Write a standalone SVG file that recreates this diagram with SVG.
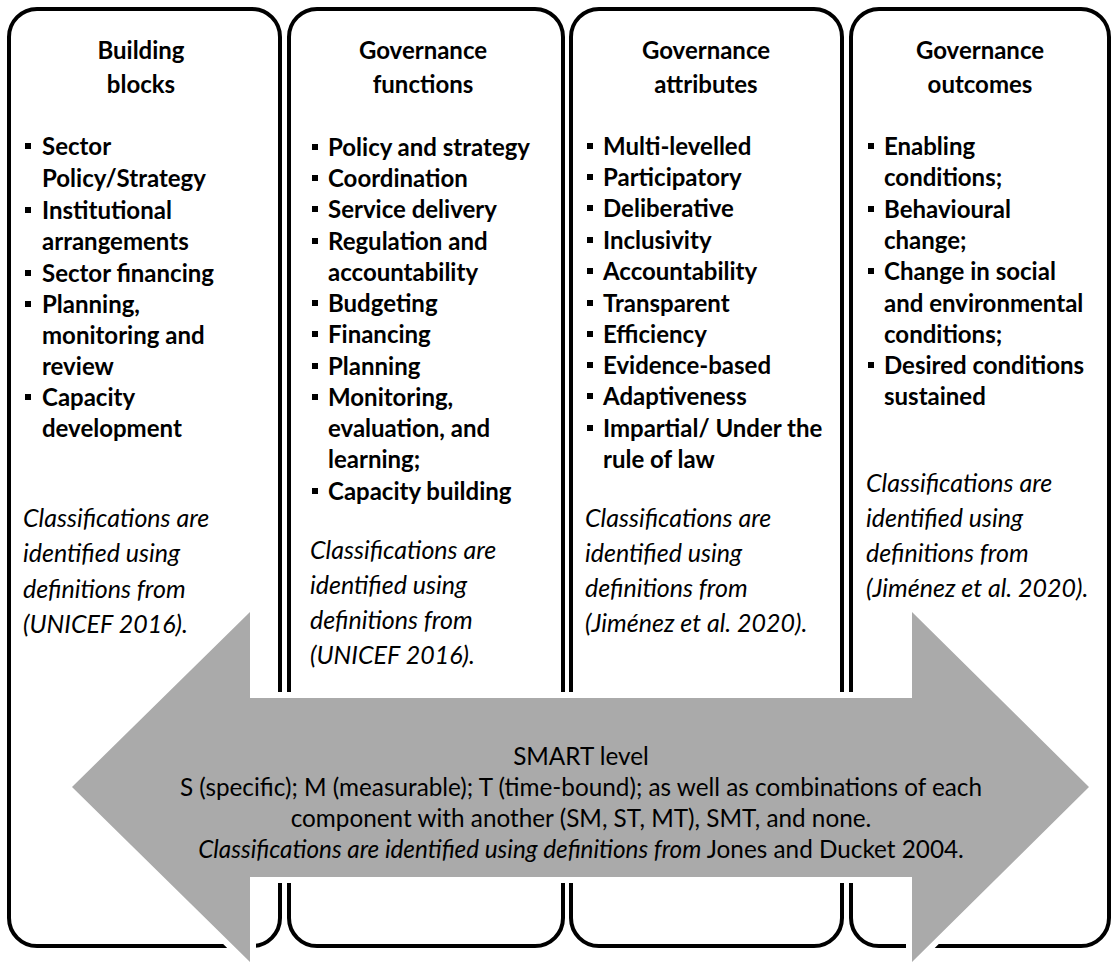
<svg xmlns="http://www.w3.org/2000/svg" width="1114" height="963" viewBox="0 0 1114 963">
<style>
.box{fill:#fff;stroke:#000;stroke-width:4}
.t{font-family:Lato,"Liberation Sans",sans-serif;font-size:24px;fill:#000}
.b{font-weight:bold}
.h{font-weight:bold;text-anchor:middle}
.i{font-style:italic;font-size:25px}
.c{text-anchor:middle;font-size:24.3px}
.c .i{font-size:24.3px}
.bl{fill:#000}
.halo{fill:#fff;stroke:#fff;stroke-width:12;stroke-linejoin:miter}
.arrow{fill:#aaaaaa}
</style>
<rect width="1114" height="963" fill="#fff"/>
<g id="col-building-blocks">
<rect class="box" x="9" y="9" width="271" height="937" rx="28"/>
<text class="t h" x="141" y="59">Building</text>
<text class="t h" x="141" y="93">blocks</text>
<rect class="bl" x="25" y="143" width="6" height="6"/>
<text class="t b" x="42" y="155">Sector</text>
<text class="t b" x="42" y="187">Policy/Strategy</text>
<rect class="bl" x="25" y="207" width="6" height="6"/>
<text class="t b" x="42" y="219">Institutional</text>
<text class="t b" x="42" y="250">arrangements</text>
<rect class="bl" x="25" y="270" width="6" height="6"/>
<text class="t b" x="42" y="282">Sector financing</text>
<rect class="bl" x="25" y="301" width="6" height="6"/>
<text class="t b" x="42" y="313">Planning,</text>
<text class="t b" x="42" y="344">monitoring and</text>
<text class="t b" x="42" y="375">review</text>
<rect class="bl" x="25" y="394" width="6" height="6"/>
<text class="t b" x="42" y="406">Capacity</text>
<text class="t b" x="42" y="437">development</text>
<text class="t i" x="23" y="527">Classifications are</text>
<text class="t i" x="23" y="562">identified using</text>
<text class="t i" x="23" y="598">definitions from</text>
<text class="t i" x="23" y="633">(UNICEF 2016).</text>
</g>
<g id="col-governance-functions">
<rect class="box" x="289" y="9" width="274" height="937" rx="28"/>
<text class="t h" x="423" y="59">Governance</text>
<text class="t h" x="423" y="93">functions</text>
<rect class="bl" x="312" y="144" width="6" height="6"/>
<text class="t b" x="328" y="156">Policy and strategy</text>
<rect class="bl" x="312" y="175" width="6" height="6"/>
<text class="t b" x="328" y="187">Coordination</text>
<rect class="bl" x="312" y="206" width="6" height="6"/>
<text class="t b" x="328" y="218">Service delivery</text>
<rect class="bl" x="312" y="238" width="6" height="6"/>
<text class="t b" x="328" y="250">Regulation and</text>
<text class="t b" x="328" y="281">accountability</text>
<rect class="bl" x="312" y="300" width="6" height="6"/>
<text class="t b" x="328" y="312">Budgeting</text>
<rect class="bl" x="312" y="331" width="6" height="6"/>
<text class="t b" x="328" y="343">Financing</text>
<rect class="bl" x="312" y="363" width="6" height="6"/>
<text class="t b" x="328" y="375">Planning</text>
<rect class="bl" x="312" y="394" width="6" height="6"/>
<text class="t b" x="328" y="406">Monitoring,</text>
<text class="t b" x="328" y="437">evaluation, and</text>
<text class="t b" x="328" y="468">learning;</text>
<rect class="bl" x="312" y="488" width="6" height="6"/>
<text class="t b" x="328" y="500">Capacity building</text>
<text class="t i" x="310" y="559">Classifications are</text>
<text class="t i" x="310" y="594">identified using</text>
<text class="t i" x="310" y="629">definitions from</text>
<text class="t i" x="310" y="664">(UNICEF 2016).</text>
</g>
<g id="col-governance-attributes">
<rect class="box" x="571" y="9" width="271" height="937" rx="28"/>
<text class="t h" x="706" y="59">Governance</text>
<text class="t h" x="706" y="93">attributes</text>
<rect class="bl" x="587" y="143" width="6" height="6"/>
<text class="t b" x="603" y="155">Multi-levelled</text>
<rect class="bl" x="587" y="174" width="6" height="6"/>
<text class="t b" x="603" y="186">Participatory</text>
<rect class="bl" x="587" y="205" width="6" height="6"/>
<text class="t b" x="603" y="217">Deliberative</text>
<rect class="bl" x="587" y="237" width="6" height="6"/>
<text class="t b" x="603" y="249">Inclusivity</text>
<rect class="bl" x="587" y="268" width="6" height="6"/>
<text class="t b" x="603" y="280">Accountability</text>
<rect class="bl" x="587" y="300" width="6" height="6"/>
<text class="t b" x="603" y="312">Transparent</text>
<rect class="bl" x="587" y="331" width="6" height="6"/>
<text class="t b" x="603" y="343">Efficiency</text>
<rect class="bl" x="587" y="362" width="6" height="6"/>
<text class="t b" x="603" y="374">Evidence-based</text>
<rect class="bl" x="587" y="393" width="6" height="6"/>
<text class="t b" x="603" y="405">Adaptiveness</text>
<rect class="bl" x="587" y="425" width="6" height="6"/>
<text class="t b" x="603" y="437">Impartial/ Under the</text>
<text class="t b" x="603" y="468">rule of law</text>
<text class="t i" x="585" y="527">Classifications are</text>
<text class="t i" x="585" y="562">identified using</text>
<text class="t i" x="585" y="597">definitions from</text>
<text class="t i" x="585" y="632">(Jiménez et al. 2020).</text>
</g>
<g id="col-governance-outcomes">
<rect class="box" x="851" y="9" width="258" height="937" rx="28"/>
<text class="t h" x="980" y="59">Governance</text>
<text class="t h" x="980" y="93">outcomes</text>
<rect class="bl" x="868" y="143" width="6" height="6"/>
<text class="t b" x="884" y="155">Enabling</text>
<text class="t b" x="884" y="186">conditions;</text>
<rect class="bl" x="868" y="206" width="6" height="6"/>
<text class="t b" x="884" y="218">Behavioural</text>
<text class="t b" x="884" y="249">change;</text>
<rect class="bl" x="868" y="268" width="6" height="6"/>
<text class="t b" x="884" y="280">Change in social</text>
<text class="t b" x="884" y="312">and environmental</text>
<text class="t b" x="884" y="343">conditions;</text>
<rect class="bl" x="868" y="362" width="6" height="6"/>
<text class="t b" x="884" y="374">Desired conditions</text>
<text class="t b" x="884" y="405">sustained</text>
<text class="t i" x="866" y="492">Classifications are</text>
<text class="t i" x="866" y="527">identified using</text>
<text class="t i" x="866" y="562">definitions from</text>
<text class="t i" x="866" y="597">(Jiménez et al. 2020).</text>
</g>
<g id="smart-arrow">
<polygon class="halo" points="72,787 250,612 250,698 912,698 912,612 1089,787 912,962 912,877 250,877 250,962"/>
<polygon class="arrow" points="72,787 250,612 250,698 912,698 912,612 1089,787 912,962 912,877 250,877 250,962"/>
<text class="t c" x="581" y="765">SMART level</text>
<text class="t c" x="581" y="796">S (specific); M (measurable); T (time-bound); as well as combinations of each</text>
<text class="t c" x="581" y="827">component with another (SM, ST, MT), SMT, and none.</text>
<text class="t c" x="581" y="858"><tspan class="i">Classifications are identified using definitions from</tspan> Jones and Ducket 2004.</text>
</g>
</svg>
